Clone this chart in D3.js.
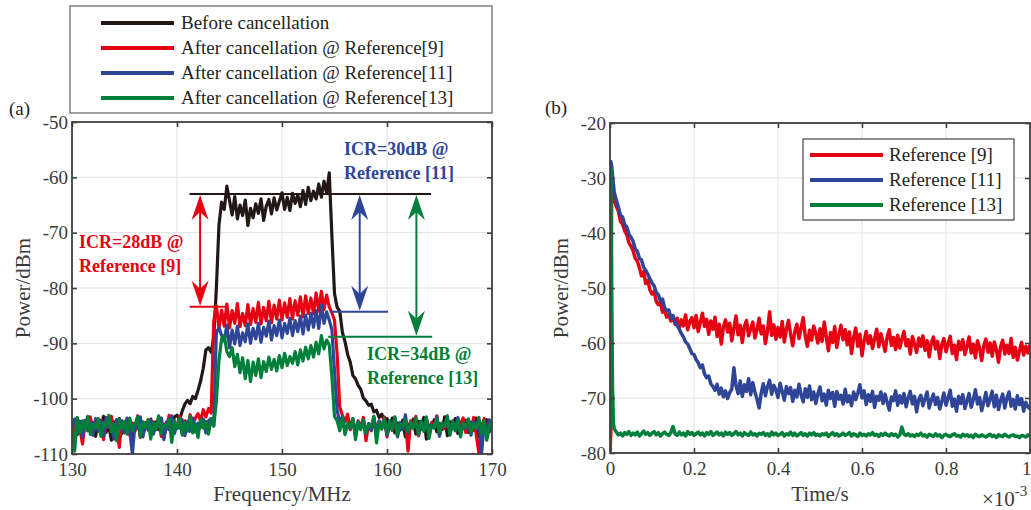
<!DOCTYPE html>
<html><head><meta charset="utf-8">
<script src="https://cdn.jsdelivr.net/npm/d3@7/dist/d3.min.js"></script>
<style>
body{margin:0;background:#fff}
svg{display:block}
text{font-family:"Liberation Serif","Times New Roman",serif}
</style>
</head><body>
<svg id="c" width="1031" height="510" font-family="Liberation Serif, serif"></svg>
<script>
// ---------------- Panel (a) data: spectrum, 130–170 MHz, 0.25 MHz step ----------------
const freqStart = 130, freqStep = 0.25, freqCount = 161;
const beforeCancellation = [
-105.2,-103.8,-106.5,-104.1,-107.2,-104.6,-103.5,-105.9,-104.3,-106.8,
-104.0,-105.5,-103.2,-106.1,-104.8,-107.5,-104.2,-105.0,-103.6,-106.3,
-104.5,-105.8,-103.9,-107.0,-104.4,-105.3,-103.4,-106.6,-104.9,-105.1,
-103.7,-106.0,-104.2,-105.6,-103.5,-107.1,-104.7,-104.0,-105.4,-103.3,
-103.0,-103.8,-102.2,-101.0,-100.3,-100.9,-99.6,-100.0,-98.5,-96.8,
-94.5,-91.2,-90.8,-91.6,-89.0,-80.0,-68.5,-64.5,-65.8,-61.6,
-64.2,-66.8,-63.5,-67.5,-65.0,-66.9,-64.1,-68.7,-65.6,-67.3,
-64.8,-66.5,-63.9,-67.8,-65.2,-64.0,-66.6,-63.7,-65.9,-64.3,
-62.8,-65.8,-63.6,-66.0,-62.9,-64.7,-63.2,-65.3,-62.4,-64.9,
-61.8,-64.2,-62.5,-63.9,-61.2,-63.6,-60.7,-62.8,-59.2,-70.5,
-81.0,-83.5,-84.2,-88.0,-89.7,-92.0,-93.4,-95.8,-96.4,-97.6,
-98.3,-99.9,-100.4,-101.2,-101.0,-102.4,-102.1,-103.4,-102.8,-104.0,
-103.6,-105.0,-103.5,-106.2,-104.4,-105.7,-103.9,-106.9,-104.6,-105.2,
-103.7,-106.4,-104.1,-105.5,-103.4,-107.3,-104.8,-105.1,-103.8,-106.0,
-104.5,-105.6,-103.3,-106.7,-104.2,-105.0,-103.6,-106.3,-104.9,-105.4,
-103.9,-106.1,-104.3,-105.7,-103.5,-106.8,-104.6,-105.2,-103.8,-106.0,
-104.4];
const afterRef9 = [
-104.6,-106.9,-103.5,-105.3,-108.2,-104.0,-105.8,-103.3,-106.4,-104.8,
-105.6,-103.9,-107.4,-104.3,-105.1,-103.2,-106.0,-104.7,-108.8,-104.1,
-105.4,-103.6,-106.6,-104.4,-105.9,-103.1,-107.0,-104.5,-105.2,-103.8,
-106.3,-104.2,-105.0,-103.4,-106.8,-104.6,-105.5,-103.0,-106.1,-104.3,
-104.9,-103.2,-106.2,-104.0,-105.3,-102.9,-104.8,-103.5,-102.7,-104.1,
-102.0,-103.3,-101.8,-102.6,-86.0,-83.2,-87.3,-84.0,-86.9,-82.9,
-87.2,-84.1,-86.4,-82.8,-87.0,-84.6,-86.8,-83.0,-86.6,-83.7,
-86.2,-82.6,-86.5,-83.5,-85.9,-82.4,-86.3,-83.1,-85.6,-82.2,
-85.8,-82.7,-85.3,-81.9,-85.6,-82.3,-84.9,-81.6,-85.2,-81.4,
-84.6,-81.8,-84.7,-80.9,-84.2,-80.6,-83.9,-81.3,-83.4,-84.5,
-85.8,-92.0,-101.5,-103.0,-104.2,-102.8,-105.6,-103.7,-106.5,-104.0,
-105.2,-103.4,-107.6,-104.6,-105.8,-103.5,-106.2,-104.1,-105.0,-103.3,
-106.9,-104.4,-105.7,-103.8,-105.1,-104.5,-105.3,-103.6,-109.5,-104.0,
-105.1,-103.2,-106.7,-104.8,-105.5,-103.7,-106.0,-104.3,-105.2,-103.1,
-106.6,-104.7,-105.4,-103.9,-106.3,-104.2,-105.0,-104.6,-104.6,-103.5,
-106.1,-104.9,-105.7,-103.4,-106.5,-109.8,-105.3,-103.6,-106.2,-104.8,
-105.0];
const afterRef11 = [
-105.3,-103.7,-106.1,-104.2,-107.0,-103.9,-105.6,-104.4,-106.6,-103.6,
-105.9,-104.1,-106.8,-103.4,-105.2,-104.6,-107.3,-103.8,-105.5,-104.0,
-106.2,-103.5,-105.8,-110.0,-104.7,-105.4,-103.3,-106.9,-104.3,-105.7,
-103.9,-106.4,-104.5,-105.1,-103.6,-107.4,-104.2,-105.6,-103.1,-106.3,
-104.6,-105.3,-103.8,-106.7,-104.1,-105.9,-103.5,-106.0,-104.4,-105.2,
-103.7,-106.2,-104.0,-103.6,-104.8,-88.0,-87.2,-88.6,-89.6,-86.7,
-90.8,-87.6,-90.1,-86.9,-90.4,-88.1,-89.7,-86.5,-90.0,-87.3,
-89.2,-86.4,-89.8,-87.1,-88.7,-86.0,-89.4,-86.8,-88.6,-85.8,
-89.0,-86.4,-88.2,-85.5,-88.6,-85.9,-87.9,-85.1,-88.3,-84.9,
-87.6,-84.6,-87.1,-84.1,-87.3,-83.1,-86.4,-84.3,-85.8,-87.5,
-95.0,-102.0,-104.5,-103.2,-106.0,-104.7,-105.4,-103.6,-106.8,-104.2,
-105.1,-103.9,-106.3,-104.5,-105.7,-103.4,-106.1,-104.0,-105.3,-103.7,
-106.6,-104.8,-105.2,-103.3,-106.9,-104.3,-105.6,-102.9,-106.2,-104.6,
-105.0,-103.8,-106.5,-104.1,-105.5,-103.5,-106.0,-104.7,-105.3,-103.2,
-106.8,-104.4,-105.1,-103.6,-106.3,-104.0,-105.8,-103.4,-106.1,-104.9,
-105.4,-103.7,-106.6,-104.2,-105.2,-103.9,-110.0,-104.5,-105.6,-103.8,
-105.9];
const afterRef13 = [
-104.8,-109.5,-103.4,-106.2,-104.0,-105.7,-103.2,-106.5,-104.6,-105.3,
-103.6,-106.8,-104.3,-105.1,-103.0,-106.0,-104.5,-107.6,-103.8,-105.5,
-104.1,-106.4,-103.5,-105.8,-104.7,-103.3,-106.9,-104.2,-105.2,-103.9,
-107.3,-104.4,-105.6,-103.1,-106.3,-104.8,-105.0,-103.7,-107.9,-104.0,
-105.4,-103.5,-106.6,-104.3,-105.9,-103.2,-106.2,-104.6,-107.0,-103.8,
-105.3,-104.1,-106.4,-103.6,-105.0,-100.5,-93.0,-89.2,-88.6,-91.5,
-92.4,-90.8,-94.2,-92.0,-95.3,-92.6,-96.4,-93.1,-96.9,-93.4,
-95.8,-92.8,-96.2,-93.3,-95.1,-92.5,-94.7,-92.9,-95.0,-92.2,
-94.4,-91.8,-94.0,-92.4,-93.6,-91.5,-93.9,-91.2,-93.2,-90.7,
-92.8,-90.4,-92.5,-89.8,-91.9,-88.6,-91.0,-89.4,-90.3,-96.0,
-103.2,-104.0,-105.8,-103.3,-106.5,-104.5,-105.2,-103.6,-107.4,-104.2,
-105.6,-103.9,-106.1,-104.7,-105.0,-103.2,-108.0,-104.4,-105.5,-103.7,
-106.3,-104.0,-105.7,-103.4,-106.7,-104.6,-105.1,-103.8,-106.0,-104.3,
-105.4,-103.5,-106.4,-104.1,-105.9,-103.3,-107.2,-104.8,-105.3,-103.6,
-106.2,-104.5,-105.0,-103.1,-106.6,-104.2,-105.7,-103.9,-106.9,-104.4,
-105.2,-103.7,-106.0,-104.6,-105.5,-103.4,-106.3,-104.0,-107.5,-105.1,
-103.8];
const seriesNamesA = ["Before cancellation","After cancellation @ Reference[9]","After cancellation @ Reference[11]","After cancellation @ Reference[13]"];
const freqTicks = [130,140,150,160,170];
const powerTicksA = [-110,-100,-90,-80,-70,-60,-50];

// ICR annotations (data units)
const icrTopLevel = -63;
const icrTopSpan = [141.2, 164.2];
const icrLevels = [-83.4, -84.3, -88.8];
const icrLevelSpans = [[141.2,144.8],[154.6,160.1],[154.4,164.3]];
const icrArrowFreq = [142.2, 157.4, 162.8];
const icrLabels = [["ICR=28dB @","Reference [9]"],["ICR=30dB @","Reference [11]"],["ICR=34dB @","Reference [13]"]];
const icrLabelPos = [[130.67,-72.8],[155.9,-56.0],[158.1,-93.0]]; // [freq, power] of first-line baseline

// ---------------- Panel (b) data: convergence, time in units of 1e-3 s ----------------
const timeEarly = [0, 0.002, 0.004, 0.006, 0.008];
const ref9Early  = [-80.0, -76.0, -29.0, -30.5, -32.5];
const ref11Early = [-30.0, -27.0, -27.8, -29.5, -31.0];
const ref13Early = [-76.5, -28.5, -50.0, -68.0, -74.5];
// main samples: t = 0.010 … 1.000 step 0.005
const ref9Main = [
-33.8,-35.2,-36.0,-37.9,-38.4,-39.6,-40.3,-41.8,-42.4,-43.2,
-44.6,-45.1,-46.3,-47.8,-47.0,-49.2,-48.6,-50.3,-51.1,-50.6,
-52.4,-53.0,-52.7,-54.4,-54.0,-55.3,-54.8,-56.0,-55.2,-56.6,
-55.5,-57.3,-55.8,-56.9,-54.9,-57.6,-56.1,-55.4,-57.2,-55.0,
-57.9,-56.3,-54.6,-57.0,-55.7,-58.4,-56.0,-57.5,-55.3,-58.8,
-56.6,-60.2,-57.1,-55.8,-58.0,-56.4,-59.6,-57.3,-55.1,-58.5,
-56.8,-59.9,-57.0,-55.9,-58.7,-57.4,-56.2,-59.1,-57.6,-55.5,
-58.3,-56.9,-60.1,-57.8,-54.3,-58.6,-56.7,-59.3,-57.2,-58.9,
-56.1,-59.8,-57.5,-55.9,-58.4,-60.5,-57.9,-56.6,-59.2,-57.3,
-55.4,-58.8,-60.6,-57.7,-59.5,-56.9,-58.3,-60.0,-57.4,-59.7,
-56.2,-58.9,-61.4,-58.1,-59.9,-57.0,-60.8,-58.5,-56.8,-59.4,
-57.6,-60.3,-58.0,-61.9,-59.1,-57.3,-60.6,-58.4,-62.3,-59.6,
-57.9,-60.1,-58.7,-61.0,-59.2,-57.5,-60.7,-58.3,-59.8,-61.5,
-58.9,-57.6,-60.4,-59.0,-61.2,-58.6,-60.9,-59.3,-57.9,-60.5,
-59.4,-62.0,-58.8,-60.2,-61.7,-59.1,-60.6,-58.7,-61.3,-59.6,
-62.5,-60.0,-58.9,-61.1,-59.7,-62.8,-60.3,-59.2,-61.6,-60.1,
-58.8,-61.9,-60.4,-63.0,-59.7,-61.2,-59.4,-62.1,-60.6,-58.9,
-61.8,-60.2,-62.7,-59.6,-61.0,-63.2,-60.5,-59.3,-61.7,-60.0,
-62.4,-59.8,-61.3,-63.5,-60.7,-59.5,-62.0,-60.4,-61.9,-59.2,
-62.6,-60.8,-63.1,-61.4,-59.9,-62.2,-60.6,-61.8,-60.3];
const ref11Main = [
-32.6,-34.0,-35.3,-36.8,-37.1,-38.5,-38.9,-40.2,-40.8,-41.5,
-42.9,-43.3,-44.6,-44.9,-46.2,-46.8,-47.5,-48.3,-49.1,-49.6,
-50.8,-51.2,-52.4,-52.0,-53.6,-54.1,-54.0,-55.4,-55.0,-56.3,
-56.8,-57.5,-58.3,-58.9,-59.8,-60.2,-61.0,-61.9,-62.1,-63.0,
-63.6,-64.5,-64.0,-65.6,-66.3,-66.0,-67.4,-67.9,-68.6,-67.5,
-69.3,-68.2,-69.8,-68.7,-70.1,-69.0,-68.4,-64.5,-67.8,-69.2,
-66.9,-69.7,-67.6,-68.8,-66.5,-69.4,-67.2,-68.9,-70.2,-71.8,
-69.1,-67.4,-69.6,-67.9,-66.8,-69.3,-67.7,-68.5,-69.9,-67.3,
-68.8,-70.4,-67.9,-69.2,-68.1,-70.6,-68.6,-69.8,-67.5,-69.4,
-70.7,-68.3,-69.9,-67.8,-70.3,-68.9,-71.0,-69.2,-68.0,-70.5,
-69.3,-71.3,-68.6,-70.1,-69.0,-71.5,-68.8,-70.2,-69.5,-71.1,
-68.4,-70.7,-69.6,-71.4,-68.9,-70.3,-69.1,-67.6,-70.0,-68.7,
-71.2,-69.4,-70.6,-68.8,-71.7,-69.7,-70.4,-68.9,-71.0,-69.3,
-70.8,-72.2,-69.8,-70.5,-68.7,-71.3,-69.6,-70.9,-69.2,-71.6,
-70.0,-68.8,-71.1,-69.7,-72.5,-70.3,-69.5,-71.4,-70.1,-68.9,
-71.8,-70.4,-69.3,-71.2,-69.9,-72.0,-70.6,-69.1,-71.3,-70.0,
-68.6,-71.5,-70.2,-72.4,-69.7,-71.0,-69.4,-71.9,-70.5,-69.2,
-71.7,-70.3,-68.5,-71.1,-69.9,-72.3,-70.7,-69.0,-71.4,-70.2,
-68.8,-71.6,-69.5,-72.1,-70.4,-69.3,-71.8,-70.0,-68.9,-71.5,
-70.3,-72.0,-69.6,-71.2,-70.1,-72.4,-70.8,-71.6,-72.0];
const ref13Main = [
-75.6,-76.2,-76.7,-76.4,-76.9,-76.3,-76.6,-76.1,-76.8,-76.4,
-76.7,-76.2,-76.9,-76.5,-76.0,-76.6,-76.3,-76.8,-76.4,-76.1,
-76.7,-76.3,-76.9,-76.5,-76.2,-76.6,-76.8,-76.3,-75.2,-76.5,
-76.8,-76.2,-76.7,-76.4,-76.9,-76.1,-76.6,-76.3,-76.8,-76.5,
-76.2,-76.7,-76.4,-76.9,-76.3,-76.6,-76.1,-76.8,-76.5,-76.2,
-76.7,-76.4,-76.9,-76.2,-76.6,-76.3,-76.8,-76.5,-76.1,-76.7,
-76.4,-76.9,-76.3,-76.6,-76.8,-76.2,-76.7,-76.5,-76.9,-76.4,
-76.6,-76.3,-76.8,-76.5,-76.9,-76.2,-76.7,-76.4,-76.8,-76.6,
-76.3,-76.9,-76.5,-76.7,-76.2,-76.8,-76.4,-76.9,-76.6,-76.3,
-76.8,-76.5,-76.9,-76.4,-76.7,-76.3,-76.8,-76.6,-76.9,-76.5,
-76.7,-76.4,-77.0,-76.6,-76.3,-76.8,-76.5,-76.9,-76.7,-76.4,
-76.8,-76.6,-76.3,-76.9,-76.5,-76.7,-77.0,-76.4,-76.8,-76.6,
-76.9,-76.5,-76.7,-76.3,-76.8,-76.6,-77.0,-76.5,-76.8,-76.4,
-76.7,-76.9,-76.5,-76.8,-76.6,-77.1,-76.7,-75.3,-76.6,-76.8,
-76.5,-76.9,-76.7,-77.0,-76.6,-76.8,-76.4,-76.9,-76.7,-77.1,
-76.6,-76.8,-77.0,-76.5,-76.9,-76.7,-77.2,-76.8,-76.6,-76.9,
-77.0,-76.7,-76.5,-76.9,-76.8,-77.1,-76.6,-76.9,-76.7,-77.0,
-76.8,-77.2,-76.6,-76.9,-77.0,-76.7,-76.9,-77.1,-76.8,-76.6,
-77.0,-76.8,-77.2,-76.7,-76.9,-77.0,-76.6,-76.9,-77.1,-76.8,
-76.7,-77.0,-76.9,-77.2,-76.8,-76.9,-77.1,-76.7,-76.9];
const seriesNamesB = ["Reference [9]","Reference [11]","Reference [13]"];
const timeTicks = [0,0.2,0.4,0.6,0.8,1];
const powerTicksB = [-80,-70,-60,-50,-40,-30,-20];

// ---------------- drawing ----------------
const FONT = '"Liberation Serif","Times New Roman",serif';
const colors = {black:"#231815", red:"#e60012", blue:"#2e4598", green:"#007f3b"};
const axisColor = "#404040", gridColor = "#e3e3e3", textColor = "#3a3a3a";
const svg = d3.select("#c");

const freqs = d3.range(freqCount).map(i => freqStart + i*freqStep);
const timeMain = d3.range(2, 201).map(k => k/200);
const timeAll = timeEarly.concat(timeMain);

function makePanel(id, x, y, xTicks, yTicks, xFmt) {
  const [x0,x1] = x.range(), [y0,y1] = y.range();
  const g = svg.append("g");
  g.append("g").selectAll("line").data(xTicks).join("line")
    .attr("x1", d=>x(d)).attr("x2", d=>x(d)).attr("y1", y1).attr("y2", y0)
    .attr("stroke", gridColor).attr("stroke-width", 1);
  g.append("g").selectAll("line").data(yTicks).join("line")
    .attr("y1", d=>y(d)).attr("y2", d=>y(d)).attr("x1", x0).attr("x2", x1)
    .attr("stroke", gridColor).attr("stroke-width", 1);
  g.append("clipPath").attr("id", id).append("rect")
    .attr("x", x0).attr("y", y1).attr("width", x1-x0).attr("height", y0-y1);
  const dataG = g.append("g").attr("clip-path", `url(#${id})`);
  const styleAxis = sel => {
    sel.select(".domain").remove();
    sel.attr("font-family", FONT);
    sel.selectAll(".tick line").attr("stroke", axisColor).attr("stroke-width", 1.6);
    sel.selectAll(".tick text").attr("fill", textColor).attr("font-size", 19).attr("font-family", FONT);
  };
  const axG = svg.append("g");
  axG.append("g").attr("transform", `translate(0,${y0})`)
    .call(d3.axisBottom(x).tickValues(xTicks).tickSize(-5).tickPadding(9).tickFormat(xFmt)).call(styleAxis);
  axG.append("g").attr("transform", `translate(0,${y1})`)
    .call(d3.axisTop(x).tickValues(xTicks).tickSize(-5).tickFormat("")).call(styleAxis);
  axG.append("g").attr("transform", `translate(${x0},0)`)
    .call(d3.axisLeft(y).tickValues(yTicks).tickSize(-5).tickPadding(4).tickFormat(d=>String(d))).call(styleAxis);
  axG.append("g").attr("transform", `translate(${x1},0)`)
    .call(d3.axisRight(y).tickValues(yTicks).tickSize(-5).tickFormat("")).call(styleAxis);
  axG.append("rect").attr("x", x0).attr("y", y1).attr("width", x1-x0).attr("height", y0-y1)
    .attr("fill", "none").attr("stroke", axisColor).attr("stroke-width", 1.8);
  return {dataG, axG};
}

// ----- Panel (a)
const xA = d3.scaleLinear([130,170],[72,492]);
const yA = d3.scaleLinear([-110,-50],[454,122]);
const pA = makePanel("clipA", xA, yA, freqTicks, powerTicksA, d=>String(d));
const lineA = d3.line().x((d,i)=>xA(freqs[i])).y(d=>yA(d));
const seriesA = [beforeCancellation, afterRef9, afterRef11, afterRef13];
const colA = [colors.black, colors.red, colors.blue, colors.green];
seriesA.forEach((s,k)=>{
  pA.dataG.append("path").attr("d", lineA(s)).attr("fill","none")
    .attr("stroke", colA[k]).attr("stroke-width", 3.2).attr("stroke-linejoin","round");
});

// annotations
const annG = svg.append("g").attr("font-family", FONT);
annG.append("line").attr("x1", xA(icrTopSpan[0])).attr("x2", xA(icrTopSpan[1]))
  .attr("y1", yA(icrTopLevel)).attr("y2", yA(icrTopLevel)).attr("stroke", colors.black).attr("stroke-width", 2);
const annCols = [colors.red, colors.blue, colors.green];
function arrowHead(xp, yp, dir, col) { // dir -1: points up, +1: points down
  const L = 25, W = 8.5, N = 17;
  const p = `M${xp},${yp} L${xp+W},${yp-dir*L} L${xp},${yp-dir*N} L${xp-W},${yp-dir*L} Z`;
  annG.append("path").attr("d", p).attr("fill", col);
}
icrLevels.forEach((lv,k)=>{
  const c = annCols[k];
  annG.append("line").attr("x1", xA(icrLevelSpans[k][0])).attr("x2", xA(icrLevelSpans[k][1]))
    .attr("y1", yA(lv)).attr("y2", yA(lv)).attr("stroke", c).attr("stroke-width", 2);
  const ax = xA(icrArrowFreq[k]), yt = yA(icrTopLevel)+1, yb = yA(lv)-1;
  annG.append("line").attr("x1", ax).attr("x2", ax).attr("y1", yt+12).attr("y2", yb-12)
    .attr("stroke", c).attr("stroke-width", 2);
  arrowHead(ax, yt, -1, c);
  arrowHead(ax, yb, 1, c);
  const tx = xA(icrLabelPos[k][0]);
  const t = annG.append("text").attr("x", tx).attr("y", yA(icrLabelPos[k][1]))
    .attr("fill", c).attr("font-size", 18).attr("font-weight", "bold").attr("font-family", FONT);
  t.append("tspan").text(icrLabels[k][0]);
  t.append("tspan").attr("x", tx).attr("dy", 24).text(icrLabels[k][1]);
});

function label(x, y, txt, size, fill, rot) {
  const t = svg.append("text").attr("font-size", size).attr("fill", fill).attr("font-family", FONT).text(txt);
  if (rot) t.attr("transform", `translate(${x},${y}) rotate(-90)`).attr("text-anchor","middle");
  else t.attr("x", x).attr("y", y);
  return t;
}
label(282, 501, "Frequency/MHz", 21, textColor).attr("text-anchor","middle");
label(30, 288, "Power/dBm", 21, textColor, true);
label(9, 115, "(a)", 19, "#231f20");

// legend (a)
const legA = svg.append("g");
legA.append("rect").attr("x", 70).attr("y", 6).attr("width", 422).attr("height", 107)
  .attr("fill","#fff").attr("stroke","#6e6e6e").attr("stroke-width", 1.3);
seriesNamesA.forEach((n,k)=>{
  const yy = 23 + k*25;
  legA.append("line").attr("x1",101).attr("x2",174).attr("y1",yy).attr("y2",yy)
    .attr("stroke", colA[k]).attr("stroke-width", 3.8);
  legA.append("text").attr("x",181).attr("y",yy+6).attr("font-size",19).attr("font-family", FONT)
    .attr("fill","#231f20").text(n);
});

// ----- Panel (b)
const xB = d3.scaleLinear([0,1],[610,1030]);
const yB = d3.scaleLinear([-80,-20],[453,123]);
const pB = makePanel("clipB", xB, yB, timeTicks, powerTicksB, d=>String(d));
pB.axG.selectAll("text").filter(d => d === 1).attr("text-anchor", "end").attr("dx", 1);
const lineB = d3.line().x((d,i)=>xB(timeAll[i])).y(d=>yB(d));
const seriesB = [ref9Early.concat(ref9Main), ref11Early.concat(ref11Main), ref13Early.concat(ref13Main)];
const colB = [colors.red, colors.blue, colors.green];
seriesB.forEach((s,k)=>{
  pB.dataG.append("path").attr("d", lineB(s)).attr("fill","none")
    .attr("stroke", colB[k]).attr("stroke-width", 3.5).attr("stroke-linejoin","round");
});
label(820, 501, "Time/s", 21, textColor).attr("text-anchor","middle");
label(568, 288, "Power/dBm", 21, textColor, true);
const sci = svg.append("text").attr("x", 982).attr("y", 506).attr("font-size", 21)
  .attr("font-family", FONT).attr("fill", textColor);
sci.append("tspan").text("×10");
sci.append("tspan").attr("dy", -10).attr("font-size", 15).text("-3");
label(545, 114, "(b)", 19, "#231f20");

// legend (b)
const legB = svg.append("g");
legB.append("rect").attr("x", 803).attr("y", 139).attr("width", 211).attr("height", 81)
  .attr("fill","#fff").attr("stroke","#555").attr("stroke-width", 1.3);
seriesNamesB.forEach((n,k)=>{
  const yy = 155 + k*25;
  legB.append("line").attr("x1",810).attr("x2",883).attr("y1",yy).attr("y2",yy)
    .attr("stroke", colB[k]).attr("stroke-width", 3.8);
  legB.append("text").attr("x",889).attr("y",yy+6).attr("font-size",19).attr("font-family", FONT)
    .attr("fill","#231f20").text(n);
});
</script>
</body></html>
